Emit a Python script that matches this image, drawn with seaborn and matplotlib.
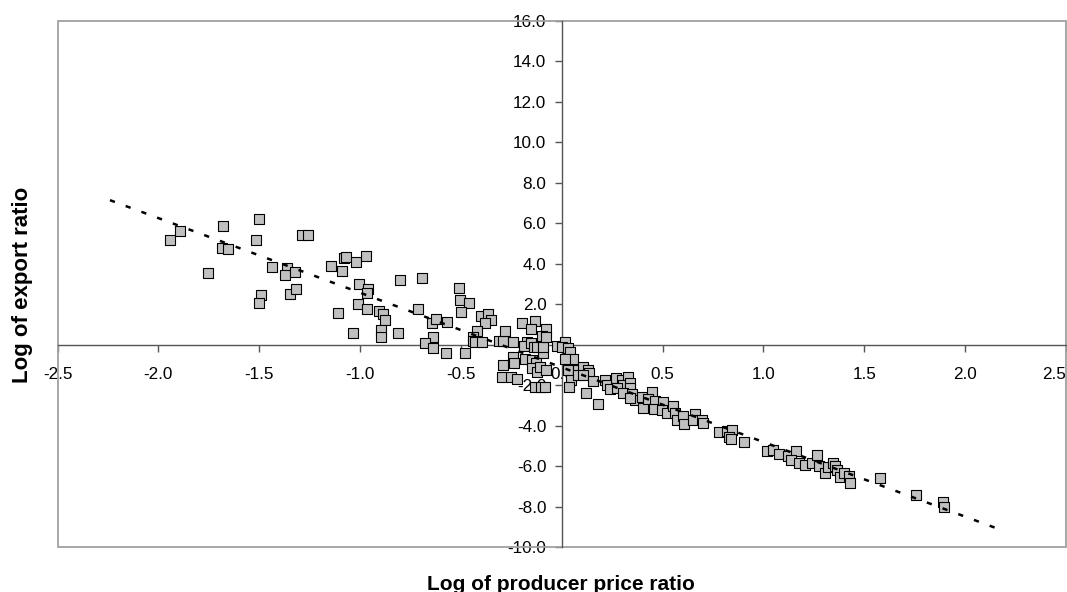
import numpy as np
import pandas as pd
import matplotlib
matplotlib.use('Agg')
import matplotlib.pyplot as plt
from matplotlib.patches import Rectangle
import seaborn as sns

# ── Data ──────────────────────────────────────────────────────────────────
price_ratio = [
    -1.944, -1.893, -1.678, -1.503, -1.686, -1.656, -1.515, -1.290, -1.258, -1.754,
    -1.439, -1.364, -1.372, -1.323, -1.490, -1.500, -1.348, -1.319, -1.146, -1.088,
    -1.082, -1.072, -1.020, -0.969, -1.006, -0.961, -0.966, -0.802, -0.695, -1.012,
    -0.966, -1.108, -0.906, -0.885, -0.876, -0.711, -0.644, -0.625, -0.568, -1.034,
    -0.896, -0.896, -0.814, -0.639, -0.677, -0.639, -0.572, -0.478,
    -0.511, -0.505, -0.460, -0.500, -0.402, -0.368, -0.350, -0.381, -0.422, -0.440,
    -0.442, -0.429, -0.396, -0.313, -0.293, -0.282, -0.240, -0.195, -0.133, -0.080,
    -0.100, -0.170, -0.185, -0.153, -0.140, -0.125, -0.092, -0.240, -0.293, -0.235,
    -0.184, -0.148, -0.127, -0.146, -0.124, -0.108, -0.076, -0.296, -0.250, -0.222,
    -0.133, -0.101, -0.083, -0.026, -0.092, -0.078, -0.153,
    0.016, 0.000, 0.032, 0.043, 0.055, 0.017, 0.033, 0.078, 0.107, 0.132,
    0.136, 0.046, 0.082, 0.107, 0.153, 0.038, 0.120, 0.178, 0.214, 0.224,
    0.239, 0.269, 0.297, 0.330, 0.305, 0.274, 0.338, 0.338, 0.302, 0.347,
    0.363, 0.338, 0.396, 0.404, 0.446, 0.429, 0.462, 0.457, 0.503, 0.495,
    0.520, 0.553, 0.561, 0.570, 0.602, 0.606, 0.660, 0.652, 0.694, 0.700,
    0.781, 0.817, 0.842, 0.830, 0.837, 0.902, 1.019, 1.046, 1.076, 1.121,
    1.160, 1.136, 1.174, 1.206, 1.239, 1.265, 1.273, 1.305, 1.321, 1.346,
    1.357, 1.366, 1.379, 1.399, 1.425, 1.430, 1.578, 1.755, 1.891, 1.895,
]
export_ratio = [
    5.16, 5.64, 5.85, 6.19, 4.76, 4.73, 5.16, 5.42, 5.42, 3.56,
    3.86, 3.80, 3.44, 3.60, 2.44, 2.04, 2.52, 2.75, 3.90, 3.64,
    4.27, 4.32, 4.11, 4.40, 3.00, 2.74, 2.54, 3.20, 3.29, 2.02,
    1.75, 1.55, 1.65, 1.53, 1.24, 1.75, 1.09, 1.25, 1.14, 0.56,
    0.73, 0.40, 0.59, 0.38, 0.07, -0.18, -0.40, -0.42,
    2.79, 2.22, 2.08, 1.62, 1.44, 1.51, 1.23, 1.09, 0.69, 0.36,
    0.20, 0.15, 0.15, 0.20, 0.20, 0.69, 0.15, 1.06, 1.17, 0.80,
    0.41, 0.13, -0.06, 0.08, -0.09, -0.11, -0.43, -0.59, -1.00, -0.89,
    -0.71, -0.73, -0.88, -1.13, -1.35, -1.12, -1.25, -1.61, -1.58, -1.70,
    -2.07, -2.10, -2.10, -0.04, -0.10, 0.40, 0.80,
    0.15, -0.10, -0.14, -0.36, -0.71, -0.72, -1.25, -1.25, -1.09, -1.25,
    -1.41, -1.74, -1.50, -1.50, -1.77, -2.10, -2.37, -2.93, -1.74, -1.99,
    -2.20, -1.66, -1.74, -1.58, -1.99, -2.15, -1.87, -2.15, -2.40, -2.43,
    -2.73, -2.65, -2.57, -3.14, -2.32, -2.70, -2.77, -3.19, -2.85, -3.24,
    -3.35, -3.03, -3.39, -3.72, -3.50, -3.92, -3.42, -3.72, -3.72, -3.87,
    -4.30, -4.24, -4.21, -4.54, -4.67, -4.80, -5.25, -5.18, -5.37, -5.47,
    -5.25, -5.69, -5.86, -5.92, -5.82, -5.45, -5.97, -6.35, -6.02, -5.86,
    -6.01, -6.19, -6.55, -6.35, -6.48, -6.84, -6.57, -7.42, -7.74, -8.00,
]

# linear trendline end points
trend_x = [-2.24, 2.18]
trend_y = [7.14, -9.15]

x_ticks = [-2.5, -2.0, -1.5, -1.0, -0.5, 0.0, 0.5, 1.0, 1.5, 2.0, 2.5]
y_ticks = [-10, -8, -6, -4, -2, 0, 2, 4, 6, 8, 10, 12, 14, 16]

df = pd.DataFrame({'price': price_ratio, 'export': export_ratio})
df_trend = pd.DataFrame({'x': trend_x, 'y': trend_y})

# ── Plot ──────────────────────────────────────────────────────────────────
sns.set_theme(style='white')
plt.rcParams['font.family'] = ['Liberation Sans', 'DejaVu Sans']

fig = plt.figure(figsize=(10.67, 5.92), dpi=100)
ax = fig.add_axes([0.0539, 0.0755, 0.9452, 0.8895])

sns.scatterplot(
    data=df, x='price', y='export', ax=ax,
    marker='s', s=44, color='#c0c0c0', edgecolor='black',
    linewidth=0.8, zorder=3, legend=False
)
sns.lineplot(
    data=df_trend, x='x', y='y', ax=ax,
    color='black', linewidth=1.8, linestyle=(0, (2.1, 4.6)), zorder=4
)

ax.set_xlim(-2.5, 2.5)
ax.set_ylim(-10, 16)
ax.set_xticks(x_ticks)
ax.set_yticks(y_ticks)
ax.set_xticklabels([f'{v:.1f}' for v in x_ticks])
ax.set_yticklabels([f'{v:.1f}' for v in y_ticks])

# axes crossing at the origin, excel style
for side in ['left', 'bottom']:
    ax.spines[side].set_position(('data', 0))
    ax.spines[side].set_color('#555555')
    ax.spines[side].set_linewidth(1.0)
    ax.spines[side].set_zorder(2)
ax.spines['top'].set_visible(False)
ax.spines['right'].set_visible(False)
ax.add_patch(Rectangle((0, 0), 1, 1, transform=ax.transAxes, fill=False,
                       edgecolor='#a0a0a0', linewidth=1.3, clip_on=False, zorder=1))

ax.tick_params(axis='x', direction='out', length=5, width=1, color='#555555',
               pad=11, labelsize=12.3, labelcolor='black', bottom=True)
ax.tick_params(axis='y', direction='out', length=5, width=1, color='#555555',
               pad=6, labelsize=12.3, labelcolor='black', left=True)
for lbl in ax.get_xticklabels() + ax.get_yticklabels():
    lbl.set_zorder(2)
# last x label is pulled inside the chart edge
ax.get_xticklabels()[-1].set_horizontalalignment('right')

ax.set_xlabel('')
ax.set_ylabel('')
fig.text(0.526, 0.004, 'Log of producer price ratio', ha='center', va='baseline',
         fontsize=15, fontweight='bold', color='black')
fig.text(0.021, 0.518, 'Log of export ratio', ha='center', va='center',
         rotation=90, fontsize=16, fontweight='bold', color='black')

fig.savefig('out.png', dpi=100)
